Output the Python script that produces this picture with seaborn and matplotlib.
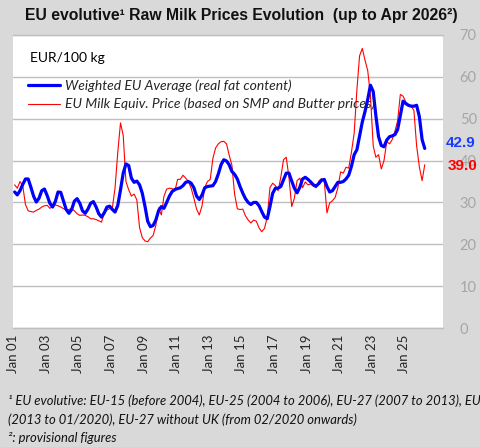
import matplotlib
matplotlib.use("Agg")
import matplotlib.pyplot as plt
import matplotlib.dates as mdates
import matplotlib.transforms as mtransforms
import pandas as pd
import seaborn as sns

# bi-monthly readings, Feb 2001 .. Apr 2026
START, END = "2001-02-01", "2026-04-01"

weighted_eu = [
    32.5, 31.8, 32.8, 34.3, 35.6, 35.6, 33.6, 31.5, 30.1, 31.0,
    32.8, 33.2, 31.6, 29.8, 28.9, 30.2, 32.5, 32.4, 30.3, 28.3,
    27.4, 28.3, 30.3, 30.9, 29.8, 28.0, 27.4, 28.4, 29.8, 30.2,
    28.9, 27.3, 26.5, 27.5, 28.9, 29.1, 28.3, 27.7, 29.3, 33.0,
    37.0, 39.2, 38.8, 35.8, 34.8, 35.1, 34.2, 32.2, 29.0, 25.5,
    24.2, 24.5, 25.8, 28.0, 29.0, 28.6, 30.0, 31.5, 32.6, 33.1,
    33.3, 33.5, 34.0, 34.8, 35.0, 34.6, 33.5, 31.5, 30.7, 31.8,
    33.5, 33.8, 33.9, 34.0, 35.0, 36.8, 39.0, 40.2, 39.9, 39.0,
    37.4, 36.7, 35.6, 33.8, 32.2, 30.9, 30.0, 29.5, 30.0, 30.0,
    29.2, 27.8, 26.5, 26.1, 29.0, 32.2, 33.4, 33.4, 33.8, 35.4,
    37.0, 37.0, 35.1, 33.4, 32.3, 33.6, 35.6, 36.0, 35.5, 34.9,
    34.2, 33.9, 34.5, 35.3, 35.5, 33.8, 32.5, 32.8, 33.8, 34.8,
    34.8, 35.0, 35.6, 36.5, 38.6, 41.4, 42.6, 45.8, 49.2, 51.7,
    54.6, 58.0, 56.5, 50.8, 45.7, 43.6, 43.3, 44.9, 45.7, 45.9,
    46.2, 47.4, 50.8, 54.2, 53.6, 53.2, 53.0, 53.0, 53.2, 50.5,
    45.0, 42.9,
]

milk_equiv = [
    34.2, 33.4, 35.0, 34.0, 29.5, 28.0, 27.8, 27.7, 28.1, 28.4,
    28.9, 29.2, 29.3, 28.6, 29.0, 29.4, 29.2, 28.9, 28.5, 28.2,
    28.3, 28.6, 28.0, 27.3, 26.9, 27.0, 26.9, 26.6, 26.1, 26.1,
    25.9, 25.6, 25.3, 27.4, 28.2, 28.5, 28.8, 33.5, 42.0, 49.0,
    46.0, 35.0, 33.0, 31.5, 32.0, 30.6, 24.0, 21.6, 20.8, 20.6,
    21.5, 22.1, 24.5, 28.7, 27.0, 31.5, 33.2, 33.4, 33.3, 32.7,
    35.5, 35.5, 36.5, 35.8, 35.0, 33.4, 31.0, 28.4, 27.0, 29.2,
    33.6, 35.0, 35.5, 40.5, 43.0, 44.0, 44.5, 44.6, 44.0, 41.3,
    38.9, 32.0, 28.5, 28.3, 28.4, 26.8, 25.8, 25.1, 25.8, 25.5,
    23.9, 23.0, 23.8, 26.5, 33.5, 34.6, 34.0, 32.8, 36.0, 40.2,
    40.8, 36.0, 29.0, 31.0, 35.2, 35.8, 33.5, 34.9, 34.2, 34.4,
    33.9, 33.5, 35.1, 35.7, 35.0, 27.5, 29.9, 30.4, 31.2, 33.5,
    37.3, 37.0, 38.4, 38.2, 42.0, 46.5, 57.0, 65.0, 66.8, 64.0,
    61.5, 55.5, 43.5, 40.8, 41.4, 38.0, 40.0, 44.5, 44.0, 45.0,
    47.0, 49.5, 55.8, 55.4, 54.0, 53.4, 53.0, 52.0, 43.5, 38.5,
    35.2, 39.0,
]

tick_years = list(range(2001, 2026, 2))
y_ticks = [0, 10, 20, 30, 40, 50, 60, 70]

LABEL_BLUE = "Weighted EU Average (real fat content)"
LABEL_RED = "EU Milk Equiv. Price (based on SMP and Butter prices)"
TITLE = "EU evolutive\u00b9 Raw Milk Prices Evolution  (up to Apr 2026\u00b2)"
NOTES = [
    "\u00b9 EU evolutive: EU-15 (before 2004), EU-25 (2004 to 2006), EU-27 (2007 to 2013), EU-28",
    "(2013 to 01/2020), EU-27 without UK (from 02/2020 onwards)",
    "\u00b2: provisional figures",
]

BG = "#d9d9d9"
GRID = "#bfbfbf"
BLUE = "#0000ff"
RED = "#ff0000"

sns.set_style("white")
plt.rcParams["font.family"] = ["Lato", "DejaVu Sans"]

dates = pd.date_range(START, END, freq="2MS")
assert len(dates) == len(weighted_eu) == len(milk_equiv)
df = pd.DataFrame({"date": dates, "blue": weighted_eu, "red": milk_equiv})

fig = plt.figure(figsize=(4.8, 4.47), dpi=100, facecolor=BG)
ax = fig.add_axes([13 / 480, 1 - 328 / 447, 430 / 480, 293 / 447])
ax.set_facecolor("white")

sns.lineplot(data=df, x="date", y="red", ax=ax, color=RED, lw=0.8, label=LABEL_RED)
sns.lineplot(data=df, x="date", y="blue", ax=ax, color=BLUE, lw=2.3, label=LABEL_BLUE)

# blue drawn on top, but listed first in the legend
handles, labels = ax.get_legend_handles_labels()
ax.legend(handles[::-1], labels[::-1], loc="upper left", frameon=False,
          bbox_to_anchor=(0.035, 0.848), borderpad=0, borderaxespad=0,
          handlelength=2.3, handletextpad=0.35, labelspacing=0.42,
          prop={"family": "Lato", "style": "italic", "size": 10})

ax.set_ylim(0, 70)
ax.set_xlim(pd.Timestamp("2000-12-26"), pd.Timestamp("2027-05-15"))
ax.set_yticks(y_ticks)
ax.yaxis.tick_right()
ax.tick_params(axis="y", length=0, pad=12, labelsize=10.5, labelcolor="#a6a6a6")
ax.set_xticks([pd.Timestamp(f"{y}-01-01") for y in tick_years])
ax.xaxis.set_major_formatter(mdates.DateFormatter("%b %y"))
ax.tick_params(axis="x", length=0, pad=5, labelsize=9.5, labelcolor="#262626", rotation=90)
ax.set_xlabel("")
ax.set_ylabel("")
ax.grid(axis="y", color=GRID, lw=1)
ax.grid(axis="x", visible=False)
for side in ["left", "right"]:
    ax.spines[side].set_visible(False)
for side in ["top", "bottom"]:
    ax.spines[side].set_color(GRID)
    ax.spines[side].set_linewidth(1)

ax.text(0.04, 0.922, "EUR/100 kg", transform=ax.transAxes, fontsize=10,
        va="center", ha="left", color="black")

# last values next to the axis
trans = mtransforms.blended_transform_factory(ax.transAxes, ax.transData)
ax.text(1.006, weighted_eu[-1] + 1.2, f"{weighted_eu[-1]:.1f}", transform=trans,
        color="#1a3cff", fontsize=11, fontweight="bold", family="Liberation Sans",
        va="center", ha="left")
ax.text(1.011, milk_equiv[-1] - 0.4, f"{milk_equiv[-1]:.1f}", transform=trans,
        color=RED, fontsize=11, fontweight="bold", family="Liberation Sans",
        va="center", ha="left")

fig.text(0.502, 0.966, TITLE, ha="center", va="center", fontsize=11.3,
         fontweight="bold", family="Liberation Sans", color="#111111")

for i, line in enumerate(NOTES):
    fig.text(8 / 480, 1 - (401 + 18.5 * i) / 447, line, ha="left", va="center",
             fontsize=9.4, style="italic", color="#111111")

fig.savefig("out.png", dpi=100, facecolor=BG)
